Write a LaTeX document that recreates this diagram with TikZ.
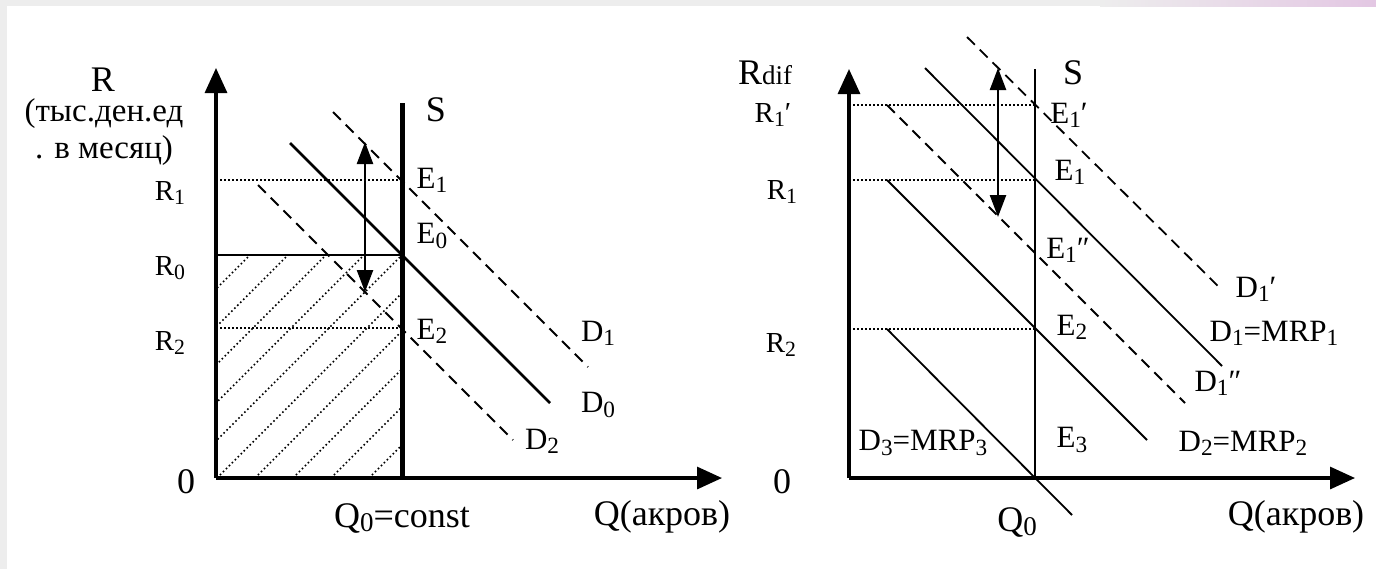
\documentclass[tikz,border=0pt]{standalone}
\usepackage{fontspec}
\setmainfont{Liberation Serif}
\usetikzlibrary{arrows.meta}
\newcommand\lo[1]{\raisebox{-0.3ex}{\scalebox{0.75}{#1}}}
\tikzset{
  axisline/.style={line width=1.6pt,-{Triangle[length=12.5pt,width=11pt]}},
  supplythick/.style={line width=2.5pt},
  supplythin/.style={line width=1.3pt},
  demandthick/.style={line width=1.4pt},
  demandthin/.style={line width=0.9pt},
  dashedline/.style={line width=0.9pt,dash pattern=on 5.5pt off 3.5pt},
  dotline/.style={line width=0.9pt,dash pattern=on 0.9pt off 1.1pt},
  hatchline/.style={line width=0.8pt,dash pattern=on 0.8pt off 1.3pt},
  twoway/.style={line width=1.2pt,{Triangle[length=11pt,width=8pt]}-{Triangle[length=11pt,width=8pt]}},
  bigt/.style={font=\fontsize{18}{20}\selectfont,inner sep=0pt},
  midt/.style={font=\fontsize{15.5}{18}\selectfont,inner sep=0pt},
  smallt/.style={font=\fontsize{14.5}{17}\selectfont,inner sep=0pt},
  unitt/.style={font=\fontsize{16.5}{19}\selectfont,inner sep=0pt},
}
\begin{document}
\begin{tikzpicture}[x=0.5pt,y=-0.5pt]
\useasboundingbox (0,0) rectangle (1376,569);
\fill[white] (0,0) rectangle (1376,569);
% frame strips
\fill[gray!14] (0,0) rectangle (1376,6);
\shade[left color=gray!14,right color=violet!22] (1100,0) rectangle (1376,6);
\fill[gray!14] (0,0) rectangle (7,569);

% ================= LEFT GRAPH =================
\coordinate (O1) at (216,478);
\coordinate (Ytop1) at (216,68);
\coordinate (Xend1) at (722,478);
\coordinate (Sb1) at (402,478);
\coordinate (St1) at (402,103);
\coordinate (E0p) at (402,255);
\coordinate (R0p) at (216,255);
\coordinate (R1a) at (216,180);
\coordinate (E1p) at (402,180);
\coordinate (R2a) at (216,328);
\coordinate (E2p) at (402,328);
\coordinate (D0a) at (290,143);
\coordinate (D0b) at (550,403);
\coordinate (D1a) at (333,112);
\coordinate (D1b) at (588,367);
\coordinate (D2a) at (258,185);
\coordinate (D2b) at (513,440);
\coordinate (Aa1) at (365,292);
\coordinate (Ab1) at (365,142);

% hatching
\begin{scope}
  \clip (216,255) rectangle (402,478);
  \foreach \c in {505,543,...,850} {
    \draw[hatchline] ({\c-478},478) -- ({\c-255},255);
  }
\end{scope}

\draw[dotline] (R1a) -- (E1p);
\draw[dotline] (R2a) -- (E2p);
\draw[line width=1pt] (R0p) -- (E0p);
\draw[dashedline] (D1a) -- (D1b);
\draw[dashedline] (D2a) -- (D2b);
\draw[demandthick] (D0a) -- (D0b);
\draw[twoway] (Aa1) -- (Ab1);
\draw[supplythick] (Sb1) -- (St1);
\draw[axisline] (O1) -- (Ytop1);
\draw[axisline] (O1) -- (Xend1);

\node[bigt] (lR) at (103,80) {R};
\node[unitt] (lunit1) at (104,114) {(тыс.ден.ед};
\node[unitt] (lunit2) at (104,151) {. в месяц)};
\node[smallt] (lR1) at (170,193) {R\lo{1}};
\node[smallt] (lR0) at (170,268) {R\lo{0}};
\node[smallt] (lR2) at (170,343) {R\lo{2}};
\node[bigt] (l0) at (186,482) {0};
\node[bigt] (lS) at (436,110) {S};
\node[midt] (lE1) at (432,180) {E\lo{1}};
\node[midt] (lE0) at (432,236) {E\lo{0}};
\node[midt] (lE2) at (432,331) {E\lo{2}};
\node[midt] (lD1) at (598,333) {D\lo{1}};
\node[midt] (lD0) at (598,405) {D\lo{0}};
\node[midt] (lD2) at (542,441) {D\lo{2}};
\node[bigt] (lQ0) at (402,518) {Q\lo{0}=const};
\node[bigt] (lQ) at (662,517) {Q(акров)};

% ================= RIGHT GRAPH =================
\coordinate (O2) at (849,478);
\coordinate (Ytop2) at (849,69);
\coordinate (Xend2) at (1355,478);
\coordinate (Sb2) at (1035,478);
\coordinate (St2) at (1035,69);
\coordinate (R1pa) at (849,105);
\coordinate (E1pp) at (1035,105);
\coordinate (R1b) at (849,180);
\coordinate (E1q) at (1035,180);
\coordinate (R2b) at (849,329);
\coordinate (E2q) at (1035,329);
\coordinate (Dpa) at (967,37);
\coordinate (Dpb) at (1222,290);
\coordinate (Dma) at (925,68);
\coordinate (Dmb) at (1222,366);
\coordinate (Dda) at (887,105);
\coordinate (Ddb) at (1185,403);
\coordinate (Dna) at (887,180);
\coordinate (Dnb) at (1147,440);
\coordinate (Dta) at (887,329);
\coordinate (Dtb) at (1072,515);
\coordinate (Aa2) at (998,217);
\coordinate (Ab2) at (998,68);

\draw[dotline] (R1pa) -- (E1pp);
\draw[dotline] (R1b) -- (E1q);
\draw[dotline] (R2b) -- (E2q);
\draw[dashedline] (Dpa) -- (Dpb);
\draw[dashedline] (Dda) -- (Ddb);
\draw[demandthin] (Dma) -- (Dmb);
\draw[demandthin] (Dna) -- (Dnb);
\draw[demandthin] (Dta) -- (Dtb);
\draw[twoway] (Aa2) -- (Ab2);
\draw[supplythin] (Sb2) -- (St2);
\draw[axisline] (O2) -- (Ytop2);
\draw[axisline] (O2) -- (Xend2);

\node[bigt] (rR) at (765,73) {R{\fontsize{13.5}{15}\selectfont dif}};
\node[smallt] (rR1p) at (773,115) {R\lo{1}′};
\node[smallt] (rR1) at (782,192) {R\lo{1}};
\node[smallt] (rR2) at (781,345) {R\lo{2}};
\node[bigt] (r0) at (782,482) {0};
\node[bigt] (rS) at (1073,73) {S};
\node[midt] (rE1p) at (1069,115) {E\lo{1}′};
\node[midt] (rE1) at (1070,172) {E\lo{1}};
\node[midt] (rE1pp) at (1068,250) {E\lo{1}″};
\node[midt] (rE2) at (1072,327) {E\lo{2}};
\node[midt] (rE3) at (1072,440) {E\lo{3}};
\node[midt] (rD1p) at (1256,289) {D\lo{1}′};
\node[midt] (rD1) at (1274,333) {D\lo{1}=MRP\lo{1}};
\node[midt] (rD1pp) at (1218,383) {D\lo{1}″};
\node[midt] (rD2) at (1243,443) {D\lo{2}=MRP\lo{2}};
\node[midt] (rD3) at (923,443) {D\lo{3}=MRP\lo{3}};
\node[bigt] (rQ0) at (1017,522) {Q\lo{0}};
\node[bigt] (rQ) at (1296,517) {Q(акров)};
\end{tikzpicture}
\end{document}
